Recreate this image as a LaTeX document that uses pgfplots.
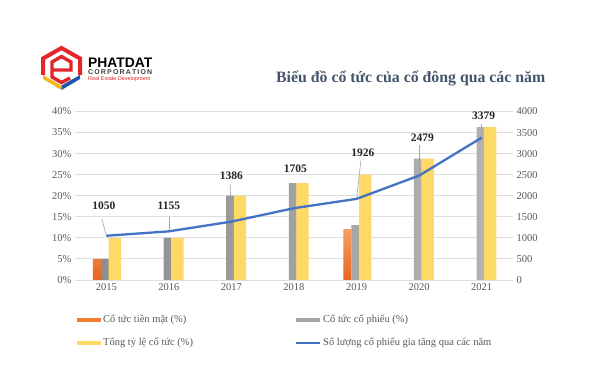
\documentclass[border=0pt]{standalone}
\usepackage{pgfplots}
\pgfplotsset{compat=1.18}
\usepackage{fontspec}
\setmainfont{Liberation Serif}
\newfontfamily\sansf{Liberation Sans}
\definecolor{cOrange}{HTML}{EE7D31}
\definecolor{cOrangeT}{HTML}{F4A064}
\definecolor{cOrangeB}{HTML}{E8651E}
\definecolor{cGrayL}{HTML}{8E8E8E}
\definecolor{cGrayR}{HTML}{B2B2B2}
\definecolor{cGray}{HTML}{A5A5A5}
\definecolor{cYellow}{HTML}{FFD966}
\definecolor{cBlue}{HTML}{4472C4}
\definecolor{cGrid}{HTML}{DEDEDE}
\definecolor{cText}{HTML}{595959}
\definecolor{cTitle}{HTML}{44546A}
\definecolor{cLead}{HTML}{A6A6A6}
\definecolor{cRed}{HTML}{E3262B}
\definecolor{cLogoY}{HTML}{F7B520}
\definecolor{cLogoB}{HTML}{1F57A8}
\begin{document}
\begin{tikzpicture}
\path[use as bounding box, fill=white] (0pt,0pt) rectangle (600pt,375pt);
% logo
\begin{scope}[x=1pt,y=1pt]
\fill[cLogoY] (43,296) -- (61.5,285) -- (61.5,289.5) -- (43,300) -- cycle;
\fill[cLogoB] (61.5,285) -- (80,296) -- (80,300) -- (61.5,289.5) -- cycle;
\draw[cRed, line width=4pt, line join=miter] (43,300) -- (43,316.5) -- (61.5,327) -- (80,316.5) -- (80,300);
\draw[cRed, line width=3.4pt, line join=miter] (51,305) -- (71,305) -- (71,313) -- (61.5,318.5) -- (52,313) -- (52,298) -- (61.5,292.5) -- (70,297);
\node[anchor=west, inner sep=0pt] at (88,312) {\resizebox{64pt}{!}{\sansf\bfseries\fontsize{13.4}{14}\selectfont PHATDAT}};
\node[anchor=west, inner sep=0pt, text=black!75] at (88,302.5) {\resizebox{64pt}{!}{\sansf\bfseries\fontsize{8}{9}\selectfont C\,O\,R\,P\,O\,R\,A\,T\,I\,O\,N}};
\node[anchor=west, inner sep=0pt, text=cRed] at (88,296) {\resizebox{62pt}{!}{\sansf\fontsize{6}{7}\selectfont Real Estate Development}};
\node[anchor=west, inner sep=0pt, text=cTitle] at (276,297) {\resizebox{269pt}{!}{\bfseries\fontsize{16}{18}\selectfont Biểu đồ cổ tức của cổ đông qua các năm}};
\end{scope}
\begin{axis}[
  at={(75pt,95pt)}, anchor=south west,
  scale only axis, width=438pt, height=168.5pt,
  xmin=-0.5, xmax=6.5, ymin=0, ymax=40,
  xtick={0,1,2,3,4,5,6}, xticklabels={2015,2016,2017,2018,2019,2020,2021},
  ytick={0,5,...,40}, yticklabel={\pgfmathprintnumber{\tick}\%},
  ymajorgrids, grid style={cGrid, line width=0.9pt},
  axis line style={draw=none}, major tick length=0pt,
  tick label style={font=\fontsize{10.5}{12}\selectfont, text=cText},
  /pgf/number format/assume math mode=true,
  clip=false,
  legend columns=2,
  legend cell align=left,
  legend style={draw=none, fill=none, at={(axis description cs:0,0)}, anchor=north west,
    xshift=-1pt, yshift=-31pt, font=\fontsize{10.5}{12}\selectfont, text=cText,
    row sep=10pt},
]
\addplot[ybar, bar width=8.2pt, bar shift=-9.2pt, draw=none, top color=cOrangeT, bottom color=cOrangeB, forget plot]
  coordinates {(0,5) (4,12.1)};
\addplot[ybar, bar width=7.8pt, bar shift=-1.3pt, draw=none, left color=cGrayL, right color=cGrayR, forget plot]
  coordinates {(0,5) (1,10) (2,20) (3,23) (4,13) (5,28.8) (6,36.3)};
\addplot[ybar, bar width=12.3pt, bar shift=8.6pt, draw=none, fill=cYellow, forget plot]
  coordinates {(0,10) (1,10) (2,20) (3,23) (4,25) (5,28.8) (6,36.3)};
\addlegendimage{draw=none, fill=cOrange, legend image code/.code={\fill[cOrange] (0pt,-2pt) rectangle (24pt,2pt);}}
\addlegendentry{\makebox[190pt][l]{Cổ tức tiền mặt (\%)}}
\addlegendimage{draw=none, fill=cGray, legend image code/.code={\fill[cGray] (0pt,-2pt) rectangle (24pt,2pt);}}
\addlegendentry{Cổ tức cổ phiếu (\%)}
\addlegendimage{draw=none, fill=cYellow, legend image code/.code={\fill[cYellow] (0pt,-2pt) rectangle (24pt,2pt);}}
\addlegendentry{\makebox[190pt][l]{Tổng tỷ lệ cổ tức (\%)}}
\addlegendimage{draw=cBlue, line width=2pt, legend image code/.code={\draw[cBlue, line width=2pt] (0pt,0pt) -- (24pt,0pt);}}
\addlegendentry{Số lượng cổ phiếu gia tăng qua các năm}
\end{axis}
\begin{axis}[
  at={(75pt,95pt)}, anchor=south west,
  scale only axis, width=438pt, height=168.5pt,
  xmin=-0.5, xmax=6.5, ymin=0, ymax=4000,
  axis y line*=right, axis x line=none,
  ytick={0,500,...,4000}, scaled y ticks=false,
  axis line style={draw=none}, major tick length=0pt,
  tick label style={font=\fontsize{10.5}{12}\selectfont, text=cText},
  /pgf/number format/assume math mode=true,
  /pgf/number format/1000 sep={},
  clip=false,
]
\draw[cLead, line width=0.6pt] (axis cs:-0.07,1450) -- (axis cs:0,1050);
\draw[cLead, line width=0.6pt] (axis cs:1,1500) -- (axis cs:1,1155);
\draw[cLead, line width=0.6pt] (axis cs:1.98,2270) -- (axis cs:2,1386);
\draw[cLead, line width=0.6pt] (axis cs:3,2300) -- (axis cs:3,1705);
\draw[cLead, line width=0.6pt] (axis cs:4.07,2850) -- (axis cs:4,1926);
\draw[cLead, line width=0.6pt] (axis cs:5,3200) -- (axis cs:5,2479);
\draw[cLead, line width=0.6pt] (axis cs:6,3700) -- (axis cs:6,3379);
\addplot[cBlue, line width=2.3pt, line join=round] coordinates {
  (0,1050) (1,1155) (2,1386) (3,1705) (4,1926) (5,2479) (6,3379)};
\begin{scope}[every node/.style={font=\bfseries\fontsize{11.5}{13}\selectfont, text=black!85, inner sep=1pt}]
\node at (axis cs:-0.04,1757) {1050};
\node at (axis cs:1.0,1757) {1155};
\node at (axis cs:2.0,2469) {1386};
\node at (axis cs:3.02,2635) {1705};
\node at (axis cs:4.1,3031) {1926};
\node at (axis cs:5.05,3388) {2479};
\node at (axis cs:6.03,3893) {3379};
\end{scope}
\end{axis}
\end{tikzpicture}
\end{document}
